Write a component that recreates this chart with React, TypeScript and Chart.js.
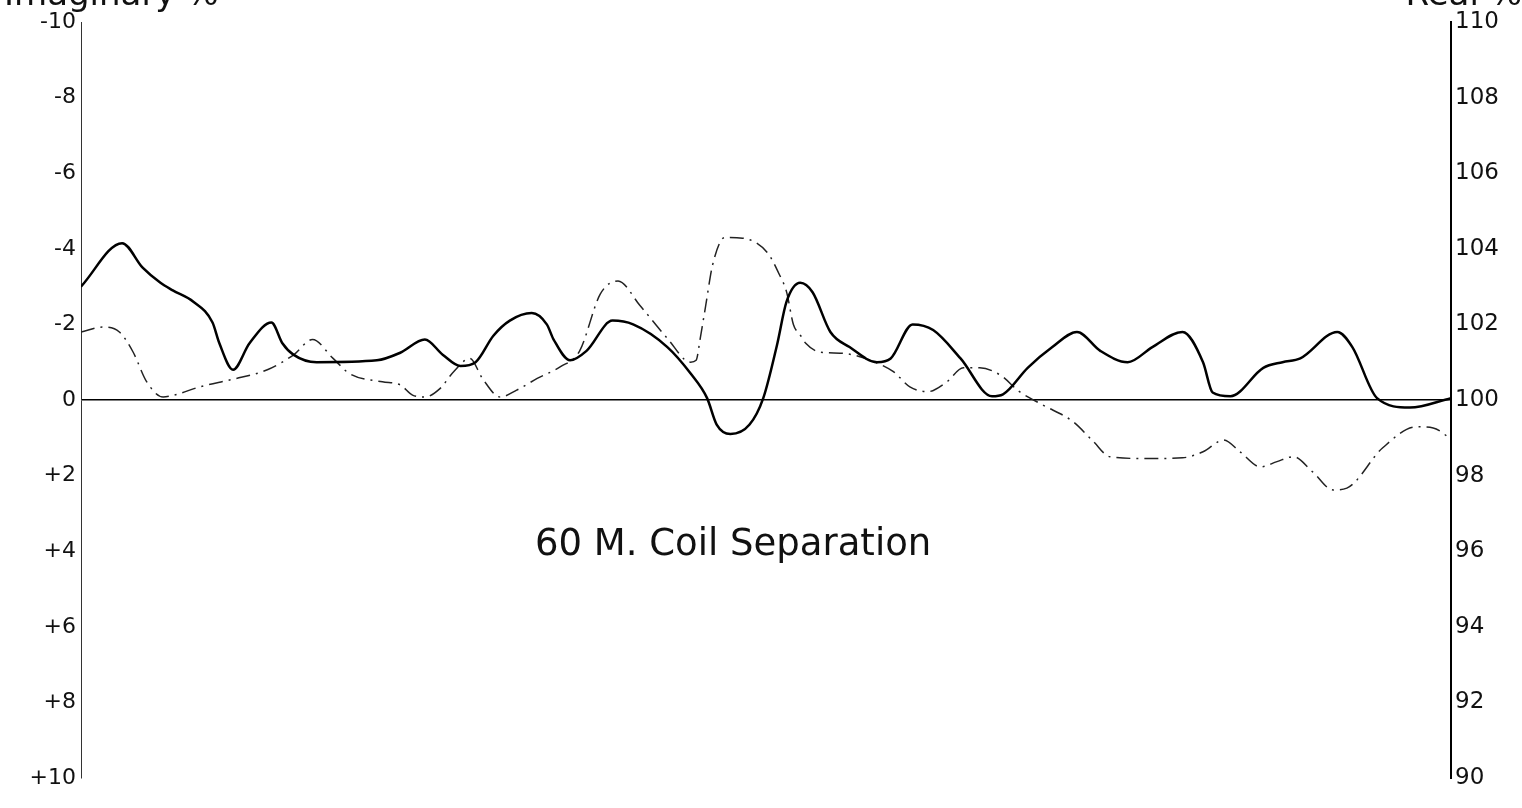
import React, { useEffect, useRef } from "react";
import { Chart, registerables } from "chart.js";

Chart.register(...registerables);

// Solid curve: Real % (right axis)
const solidX = [0.0, 3.0, 4.5, 5.8, 6.7, 8.2, 9.6, 10.1, 11.1, 12.3, 13.9, 14.7, 15.5, 17.2, 21.6, 23.3, 25.1, 26.4, 27.7, 28.8, 30.1, 31.3, 32.9, 34.0, 34.5, 35.7, 36.9, 38.8, 40.3, 42.8, 44.5, 45.7, 46.4, 47.4, 48.8, 49.8, 50.8, 51.5, 52.5, 53.4, 54.7, 56.1, 58.1, 59.1, 60.7, 62.2, 64.2, 66.5, 67.3, 69.1, 70.9, 72.7, 74.4, 76.4, 78.2, 80.4, 81.9, 82.6, 83.9, 86.3, 87.7, 89.0, 91.7, 92.8, 94.6, 97.0, 100.0];
const solidReal = [103.0, 104.15, 103.5, 103.1, 102.9, 102.6, 102.05, 101.5, 100.8, 101.5, 102.05, 101.5, 101.2, 101.0, 101.05, 101.25, 101.6, 101.2, 100.9, 101.0, 101.7, 102.1, 102.3, 102.0, 101.6, 101.05, 101.3, 102.1, 102.0, 101.4, 100.7, 100.05, 99.35, 99.1, 99.35, 100.05, 101.45, 102.6, 103.1, 102.85, 101.8, 101.4, 101.0, 101.1, 102.0, 101.85, 101.1, 100.1, 100.15, 100.85, 101.4, 101.8, 101.3, 101.0, 101.4, 101.8, 101.0, 100.2, 100.1, 100.85, 101.0, 101.1, 101.8, 101.4, 100.05, 99.8, 100.05];

// Dash-dot curve: Imaginary % (left axis, reversed)
const dashX = [0.0, 1.6, 2.8, 3.8, 4.8, 6.0, 6.8, 8.7, 11.1, 13.6, 15.5, 16.9, 18.4, 19.6, 22.0, 23.3, 24.2, 25.1, 26.2, 27.2, 28.4, 29.3, 30.6, 31.8, 33.3, 35.0, 36.4, 37.9, 39.2, 40.8, 42.8, 44.5, 44.9, 45.2, 45.6, 46.1, 47.0, 48.3, 50.1, 51.0, 51.5, 52.0, 52.5, 52.9, 53.9, 55.4, 56.4, 58.1, 59.3, 60.5, 61.8, 63.2, 64.4, 65.6, 67.1, 68.5, 70.2, 72.4, 73.9, 75.1, 78.0, 80.4, 81.9, 83.4, 84.6, 86.1, 87.3, 88.5, 89.9, 91.4, 92.4, 95.0, 97.5, 98.7, 99.9];
const dashImag = [-1.8, -1.93, -1.8, -1.27, -0.48, -0.08, -0.13, -0.35, -0.55, -0.8, -1.19, -1.6, -1.1, -0.7, -0.48, -0.4, -0.13, -0.08, -0.3, -0.75, -1.1, -0.57, -0.08, -0.26, -0.57, -0.88, -1.3, -2.8, -3.15, -2.5, -1.63, -1.0, -1.05, -1.63, -2.5, -3.57, -4.3, -4.28, -3.9, -3.3, -2.86, -2.0, -1.72, -1.5, -1.27, -1.24, -1.19, -0.98, -0.75, -0.35, -0.22, -0.48, -0.85, -0.85, -0.66, -0.22, 0.13, 0.57, 1.1, 1.5, 1.55, 1.53, 1.37, 1.06, 1.37, 1.77, 1.63, 1.5, 1.9, 2.38, 2.33, 1.27, 0.71, 0.74, 1.0];

const leftAxisTitle = "Imaginary %";
const rightAxisTitle = "Real %";
const chartTitle = "60 M. Coil Separation";

const FONT = "'DejaVu Sans', sans-serif";

const textPlugin = {
  id: "textPlugin",
  afterDraw(chart: any) {
    const { ctx, chartArea } = chart;
    ctx.save();
    ctx.fillStyle = "#111";
    ctx.textBaseline = "alphabetic";
    ctx.font = `34px ${FONT}`;
    ctx.textAlign = "left";
    ctx.fillText(leftAxisTitle, 4, 5);
    ctx.textAlign = "right";
    ctx.fillText(rightAxisTitle, 1522, 5);
    ctx.font = `37px ${FONT}`;
    ctx.textAlign = "center";
    ctx.textBaseline = "middle";
    const x = chartArea.left + (chartArea.right - chartArea.left) * 0.476;
    const y = chartArea.top + (chartArea.bottom - chartArea.top) * 0.692;
    ctx.fillText(chartTitle, x, y);
    ctx.restore();
  },
};

export default function App() {
  const ref = useRef<HTMLCanvasElement | null>(null);
  useEffect(() => {
    if (!ref.current) return;
    const chart = new Chart(ref.current, {
      type: "line",
      data: {
        datasets: [
          {
            label: "Real %",
            data: solidX.map((x, i) => ({ x, y: solidReal[i] })),
            yAxisID: "yR",
            borderColor: "#000",
            borderWidth: 2.5,
            pointRadius: 0,
            cubicInterpolationMode: "monotone",
            fill: false,
          },
          {
            label: "Imaginary %",
            data: dashX.map((x, i) => ({ x, y: dashImag[i] })),
            yAxisID: "yL",
            borderColor: "#222",
            borderWidth: 1.5,
            borderDash: [14, 6, 2, 6],
            pointRadius: 0,
            cubicInterpolationMode: "monotone",
            fill: false,
          },
        ],
      },
      options: {
        animation: false,
        responsive: true,
        maintainAspectRatio: false,
        layout: { padding: { top: 22, bottom: 30, left: 0, right: 0 } },
        plugins: { legend: { display: false }, tooltip: { enabled: false } },
        scales: {
          x: { type: "linear", min: 0, max: 100, display: false },
          yL: {
            type: "linear",
            position: "left",
            min: -10,
            max: 10,
            reverse: true,
            afterFit: (s: any) => { s.width = 81; },
            ticks: {
              stepSize: 2,
              color: "#111",
              padding: 5,
              font: { family: FONT, size: 22 },
              callback: (v: any) => (v < 0 ? "-" + Math.abs(v) : v > 0 ? "+" + v : "0"),
            },
            grid: {
              drawTicks: false,
              lineWidth: 1.5,
              color: (c: any) => (c.tick && c.tick.value === 0 ? "#000" : "rgba(0,0,0,0)"),
            },
            border: { display: true, color: "#333", width: 1 },
          },
          yR: {
            type: "linear",
            position: "right",
            min: 90,
            max: 110,
            afterFit: (s: any) => { s.width = 71; },
            ticks: {
              stepSize: 2,
              color: "#111",
              padding: 4,
              font: { family: FONT, size: 23 },
            },
            grid: { drawTicks: false, drawOnChartArea: false },
            border: { display: true, color: "#000", width: 2 },
          },
        },
      },
      plugins: [textPlugin],
    });
    return () => chart.destroy();
  }, []);
  return (
    <div style={{ position: "absolute", left: 0, top: 0, width: 1522, height: 808, background: "#fff" }}>
      <canvas ref={ref} />
    </div>
  );
}
